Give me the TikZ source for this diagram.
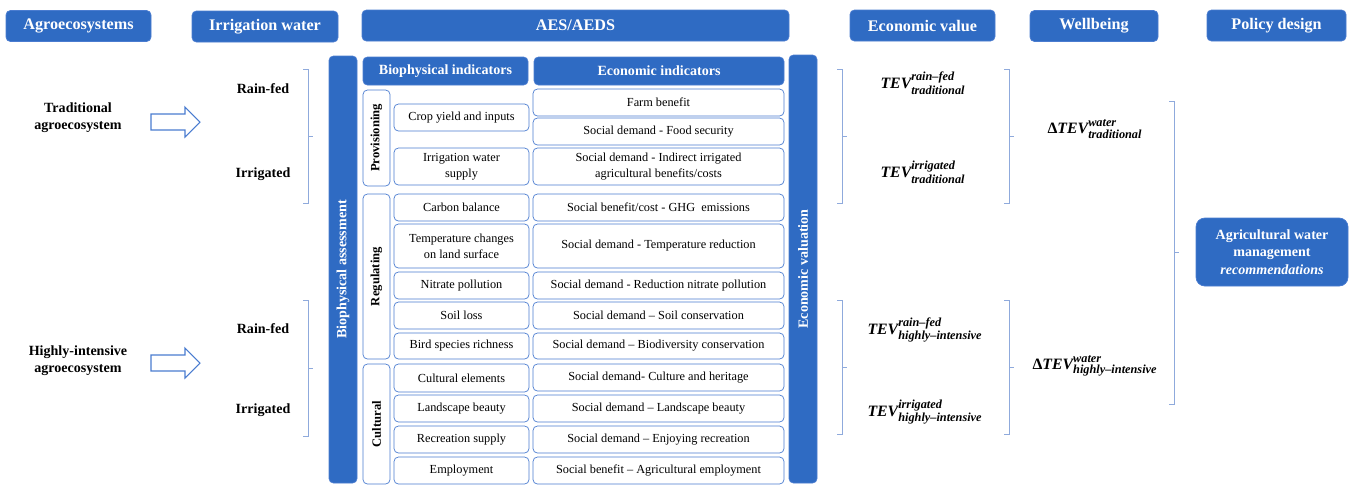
\documentclass[tikz,border=0pt]{standalone}
\usepackage{fontspec}
\setmainfont{Liberation Serif}
\usepackage{amsmath}
\usetikzlibrary{positioning}
\definecolor{aesblue}{RGB}{47,107,195}
\definecolor{lineblue}{RGB}{74,124,208}
\definecolor{braceblue}{RGB}{143,170,220}
\newcommand{\px}{0.02cm}
\newcommand{\sidebrace}[3]{%
  \draw[brace] (#1-5,#2) -- (#1,#2) -- (#1,#3) -- (#1-5,#3);
  \draw[brace] (#1,{(#2+#3)/2}) -- (#1+5,{(#2+#3)/2});}
\newcommand{\hollowarrow}[2]{%
  \draw[hollow] (#1,#2-8) -- ++(34,0) -- ++(0,-7) -- ++(15,15) -- ++(-15,15)
    -- ++(0,-7) -- ++(-34,0) -- cycle;}
\newcommand{\tevm}[3]{$\text{#1TEV}^{\text{\fontsize{7}{8}\selectfont #2}}_{\text{\fontsize{7}{8}\selectfont #3}}$}
\tikzset{
  headbox/.style={fill=aesblue, draw=lineblue, rounded corners=2.5pt,
    text=white, font=\fontsize{9.2}{10}\selectfont\bfseries, inner sep=0pt,
    minimum height=31*\px},
  barbox/.style={fill=aesblue, draw=lineblue, rounded corners=2.5pt,
    text=white, font=\fontsize{8}{9}\selectfont\bfseries, inner sep=0pt,
    rotate=90, minimum height=28*\px},
  tabhead/.style={fill=aesblue, draw=lineblue, rounded corners=2.5pt,
    text=white, font=\fontsize{8}{9}\selectfont\bfseries, inner sep=0pt,
    minimum height=28*\px},
  catbox/.style={draw=lineblue, fill=white, rounded corners=2.5pt, rotate=90,
    font=\fontsize{7.2}{8}\selectfont\bfseries, inner sep=0pt, minimum height=27*\px},
  cell/.style={draw=lineblue, fill=white, rounded corners=2.5pt, align=center,
    font=\fontsize{7}{9}\selectfont, inner sep=0pt, minimum height=27*\px},
  bio/.style={cell, minimum width=135*\px},
  eco/.style={cell, minimum width=251*\px},
  sidetext/.style={align=center, font=\fontsize{8}{9.5}\selectfont\bfseries},
  tev/.style={font=\fontsize{9}{10}\selectfont\bfseries\itshape},
  brace/.style={draw=braceblue, line width=0.5pt},
  hollow/.style={draw=lineblue, fill=white, line width=0.6pt, line join=miter}
}

\begin{document}
\begin{tikzpicture}[x=0.02cm, y=-0.02cm]
\useasboundingbox (0,0) rectangle (1352,485);
% column headers
\node[headbox, minimum width=145*\px] (agro) at (78.5,26) {Agroecosystems};
\node[headbox, minimum width=146*\px] (irrig) at (265,26.5) {Irrigation water};
\node[headbox, minimum width=427*\px] (aes) at (575.5,25.5) {AES/AEDS};
\node[headbox, minimum width=145*\px] (econ) at (922.5,25.5) {Economic value};
\node[headbox, minimum width=128*\px] (well) at (1094,26) {Wellbeing};
\node[headbox, minimum width=139*\px] (policy) at (1276.5,25.5) {Policy design};

% agroecosystems and water
\node[sidetext] (trad) at (78,117.5) {Traditional\\agroecosystem};
\node[sidetext] (high) at (78,361) {Highly-intensive\\agroecosystem};
\hollowarrow{151}{122}
\hollowarrow{151}{363}
\node[sidetext] (rf1) at (263,89) {Rain-fed};
\node[sidetext] (ir1) at (263,174) {Irrigated};
\node[sidetext] (rf2) at (263,329) {Rain-fed};
\node[sidetext] (ir2) at (263,410) {Irrigated};
\sidebrace{308}{69}{203}
\sidebrace{308}{300}{436}

% side bars
\node[barbox, minimum width=427*\px] (bioass) at (343,269.5) {Biophysical assessment};
\node[barbox, minimum width=428*\px] (ecoval) at (803,269) {Economic valuation};

% table
\node[tabhead, minimum width=165*\px] (bioind) at (445.5,71) {Biophysical indicators};
\node[tabhead, minimum width=250*\px] (ecoind) at (659,71) {Economic indicators};
\node[catbox, minimum width=96*\px] (prov) at (376.5,138) {Provisioning};
\node[catbox, minimum width=165*\px] (regul) at (376.5,276.5) {Regulating};
\node[catbox, minimum width=120*\px] (cultu) at (376.5,424) {Cultural};

\node[bio] (crop) at (461.5,117.5) {Crop yield and inputs};
\node[bio, minimum height=37*\px] (irw) at (461.5,166.5) {Irrigation water\\supply};
\node[bio] (carb) at (461.5,207.5) {Carbon balance};
\node[bio, minimum height=44*\px] (temp) at (461.5,246) {Temperature changes\\on land surface};
\node[bio] (nitr) at (461.5,285.5) {Nitrate pollution};
\node[bio] (soil) at (461.5,315.5) {Soil loss};
\node[bio, minimum height=26*\px] (bird) at (461.5,346) {Bird species richness};
\node[bio, minimum height=28*\px] (cel) at (461.5,378) {Cultural elements};
\node[bio] (land) at (461.5,408.5) {Landscape beauty};
\node[bio] (recr) at (461.5,439.5) {Recreation supply};
\node[bio] (empl) at (461.5,470.5) {Employment};

\node[eco] (farm) at (658.5,102.5) {Farm benefit};
\node[eco] (food) at (658.5,131.5) {Social demand - Food security};
\node[eco, minimum height=37*\px] (indir) at (658.5,166.5) {Social demand - Indirect irrigated\\agricultural benefits/costs};
\node[eco] (ghg) at (658.5,207.5) {Social benefit/cost - GHG\ \ emissions};
\node[eco, minimum height=44*\px] (tred) at (658.5,246) {Social demand - Temperature reduction};
\node[eco] (nred) at (658.5,285.5) {Social demand - Reduction nitrate pollution};
\node[eco] (scons) at (658.5,315.5) {Social demand -- Soil conservation};
\node[eco, minimum height=26*\px] (biod) at (658.5,346) {Social demand -- Biodiversity conservation};
\node[eco] (herit) at (658.5,377.5) {Social demand- Culture and heritage};
\node[eco] (lbeau) at (658.5,408.5) {Social demand -- Landscape beauty};
\node[eco] (enjoy) at (658.5,439.5) {Social demand -- Enjoying recreation};
\node[eco] (aemp) at (658.5,470.5) {Social benefit -- Agricultural employment};

% economic value
\sidebrace{842}{69}{203}
\sidebrace{842}{300}{434}
\node[tev] (tevrt) at (923,83) {\tevm{}{rain--fed}{traditional}};
\node[tev] (tevit) at (923,172) {\tevm{}{irrigated}{traditional}};
\node[tev] (tevrh) at (925,330) {\tevm{}{rain--fed}{highly--intensive}};
\node[tev] (tevih) at (925,412) {\tevm{}{irrigated}{highly--intensive}};

% wellbeing
\sidebrace{1009}{69}{203}
\sidebrace{1009}{300}{434}
\node[tev] (dtrad) at (1095,129) {\tevm{\textup{Δ}}{water}{traditional}};
\node[tev] (dhigh) at (1095,366) {\tevm{\textup{Δ}}{water}{highly--intensive}};

% policy
\sidebrace{1174}{101}{404}
\node[headbox, align=center, minimum width=152*\px, minimum height=68*\px,
  rounded corners=5pt, font=\fontsize{8}{10}\selectfont\bfseries] (recom) at (1272,252)
  {Agricultural water\\management\\\textit{recommendations}};
\end{tikzpicture}
\end{document}
